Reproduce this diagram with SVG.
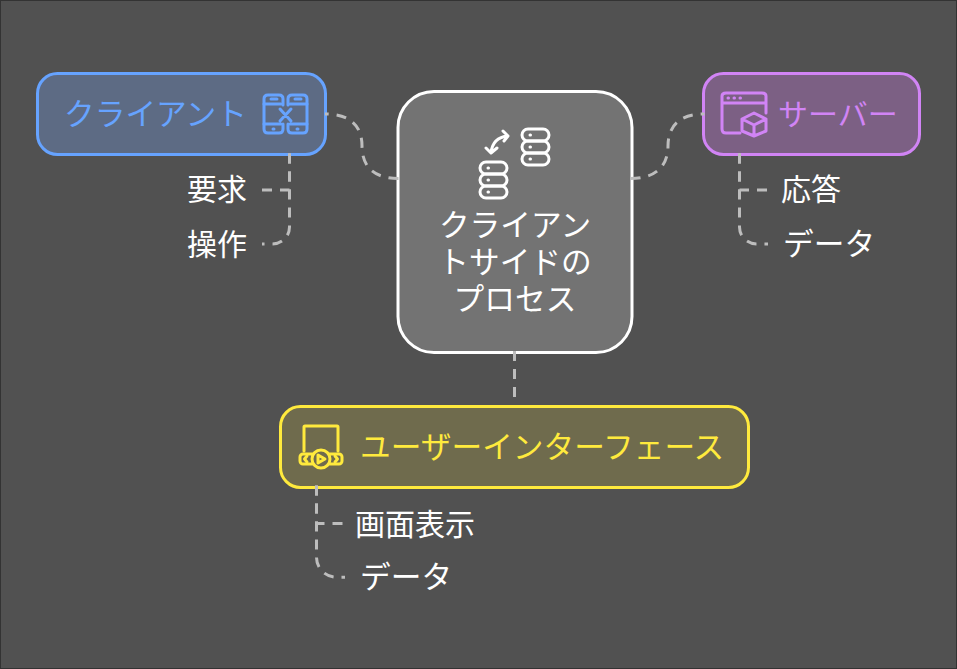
<svg xmlns="http://www.w3.org/2000/svg" width="957" height="669" viewBox="0 0 957 669">
<style>
text{font-family:"Noto Sans CJK JP","Noto Sans",sans-serif;font-size:30px;fill:#fff}
.kana{font-size:30.700px}
.box{stroke-width:3}
.conn{fill:none;stroke:#bdbdbd;stroke-width:3;stroke-dasharray:10 8}
.ico{fill:none;stroke-width:3;stroke-linecap:round;stroke-linejoin:round}
</style>
<rect x="0.5" y="0.5" width="956" height="668" fill="#515151" stroke="#333"/>
<g id="node-client">
<rect class="box" x="37.500" y="73.500" width="288" height="81" rx="20" fill="#5d6b84" stroke="#66a3ff"/>
<text class="kana" x="64" y="125" style="fill:#66a3ff">クライアント</text>
<g class="ico" stroke="#66a3ff">
<path d="M283 105V99Q283 95 279 95H268Q264 95 264 99V129Q264 133 268 133H279Q283 133 283 129V124"/>
<path d="M288 105V99Q288 95 292 95H303Q307 95 307 99V129Q307 133 303 133H292Q288 133 288 129V124"/>
<path d="M264 104H281M264 124H281M290 104H307M290 124H307M271 99H277M295 99H301M273 129H274M297 129H298M280 109L291 121M291 109L280 121"/>
</g>
</g>
<g id="node-center">
<rect class="box" x="398" y="91.500" width="234" height="261" rx="36" fill="#737373" stroke="#fff"/>
<g class="ico" stroke="#fff">
<rect x="522" y="129" width="27" height="12" rx="6"/><rect x="522" y="141" width="27" height="12" rx="6"/><rect x="522" y="153" width="27" height="12" rx="6"/>
<rect x="480" y="162" width="27" height="12" rx="6"/><rect x="480" y="174" width="27" height="12" rx="6"/><rect x="480" y="186" width="27" height="12" rx="6"/>
<path d="M508 136C497 137 492 143 491 153M503 131L508 136L504 141M486 148L491 153L497 148"/>
<path d="M530 135H530.500M530 147H530.500M530 159H530.500M488 168H488.500M488 180H488.500M488 192H488.500"/>
</g>
<text text-anchor="middle" class="kana"><tspan x="515" y="236">クライアン</tspan><tspan x="515" y="273">トサイドの</tspan><tspan x="515" y="310">プロセス</tspan></text>
</g>
<g id="node-server">
<rect class="box" x="703.500" y="73.500" width="216" height="81" rx="20" fill="#7c6084" stroke="#d184f5"/>
<g class="ico" stroke="#d184f5">
<path d="M740 133H726Q722 133 722 129V96Q722 93 726 93H762Q766 93 766 96V113M722 103H766M728 98H728.500M734 98H734.500M740 98H740.500"/>
<path d="M754 113L742 119V131L754 136L766 131V119ZM742 119L754 125L766 119M754 125V136"/>
</g>
<text x="778" y="125" style="fill:#d184f5">サーバー</text>
</g>
<g id="node-ui">
<rect class="box" x="280.500" y="406.500" width="468" height="81" rx="20" fill="#6f6b4d" stroke="#ffea3d"/>
<g class="ico" stroke="#ffea3d">
<path d="M304 451V427Q304 426 305 426H337Q338 426 338 427V451"/>
<rect x="300" y="454" width="42" height="10" rx="3"/>
<circle cx="321" cy="459" r="9" fill="#6f6b4d"/>
<path d="M318 455L325 459L318 463ZM307 456L304.500 459L307 462M335 456L337.500 459L335 462"/>
</g>
<text class="kana" x="360" y="458" style="fill:#ffea3d">ユーザーインターフェース</text>
</g>
<g id="node-req"><text x="187" y="200">要求</text></g>
<g id="node-op"><text x="187" y="255">操作</text></g>
<g id="node-res"><text x="781" y="200">応答</text></g>
<g id="node-data1"><text class="kana" x="783" y="255">データ</text></g>
<g id="node-screen"><text x="355" y="534.500">画面表示</text></g>
<g id="node-data2"><text class="kana" x="360" y="588">データ</text></g>
<g id="connectors">
<path class="conn" d="M398.500 178.500C372 178.500 362 165 362 146C362 124 348 114 325 114"/>
<path class="conn" d="M630.500 178.500C657 178.500 668 165 668 146C668 124 682 114 704.500 114"/>
<path class="conn" d="M514.500 351V404"/>
<path class="conn" d="M289.500 153.500V227A17 17 0 0 1 272.500 244H262"/>
<path class="conn" d="M289.500 153.500V190H262"/>
<path class="conn" d="M739.500 153.500V227A17 17 0 0 0 756.500 244H768"/>
<path class="conn" d="M739.500 153.500V190H768"/>
<path class="conn" d="M316.500 485.500V557.300A20 20 0 0 0 336.500 577.300H345"/>
<path class="conn" d="M316.500 485.500V523.500H344"/>
</g>
</svg>
